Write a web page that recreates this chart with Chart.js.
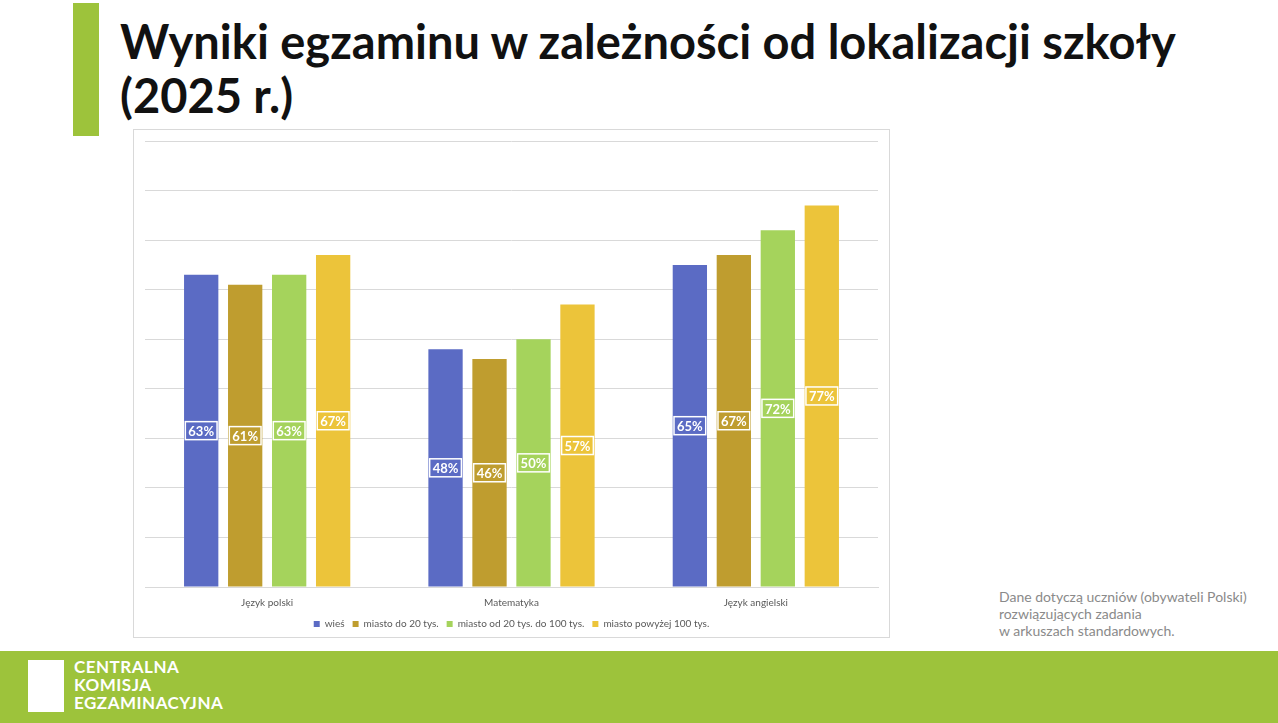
<!DOCTYPE html>
<html>
<head>
<meta charset="utf-8">
<script src="https://cdn.jsdelivr.net/npm/chart.js@4"></script>
<style>
  body { margin: 0; width: 1278px; height: 723px; background: #fff; position: relative; overflow: hidden; font-family: Lato, sans-serif; }
  .accent { position: absolute; left: 73px; top: 3px; width: 26px; height: 133px; background: #9dc33b; }
  h1 { position: absolute; left: 120px; top: 14px; margin: 0; font-size: 47px; line-height: 54px; font-weight: 700; color: #111; }
  .box { position: absolute; left: 133px; top: 129px; width: 757px; height: 509px; border: 1px solid #d9d9d9; box-sizing: border-box; }
  .note { position: absolute; left: 999px; top: 588px; font-size: 14px; line-height: 17px; color: #8a8a8a; }
  .footer { position: absolute; left: 0; top: 651px; width: 1278px; height: 72px; background: #9dc33b; }
  .logo { position: absolute; left: 28px; top: 9px; width: 36px; height: 52px; background: #fff; }
  .logo-text { position: absolute; left: 74px; top: 7px; color: #fff; font-weight: 700; font-size: 17px; line-height: 18px; letter-spacing: 0.5px; }
</style>
</head>
<body>
<div class="accent"></div>
<h1>Wyniki egzaminu w zależności od lokalizacji szkoły<br>(2025 r.)</h1>
<div class="box"><canvas id="chart" width="755" height="507"></canvas></div>
<div class="note">Dane dotyczą uczniów (obywateli Polski)<br>rozwiązujących zadania<br>w arkuszach standardowych.</div>
<div class="footer"><div class="logo"></div><div class="logo-text">CENTRALNA<br>KOMISJA<br>EGZAMINACYJNA</div></div>
<script>
const categories = ['Język polski', 'Matematyka', 'Język angielski'];
const seriesNames = ['wieś', 'miasto do 20 tys.', 'miasto od 20 tys. do 100 tys.', 'miasto powyżej 100 tys.'];
const seriesColors = ['#5b6bc4', '#bf9d2f', '#a5d35c', '#ecc43a'];
const wies = [63, 48, 65];
const miasto20 = [61, 46, 67];
const miasto100 = [63, 50, 72];
const miastoPow100 = [67, 57, 77];
const seriesValues = [wies, miasto20, miasto100, miastoPow100];

const boxLabels = {
    id: 'boxLabels',
    afterDatasetsDraw(chart) {
        const ctx = chart.ctx;
        ctx.save();
        ctx.font = 'bold 13px Lato, sans-serif';
        ctx.textAlign = 'center';
        ctx.textBaseline = 'middle';
        chart.data.datasets.forEach((ds, i) => {
            chart.getDatasetMeta(i).data.forEach((bar, j) => {
                const text = ds.data[j] + '%';
                const y = (bar.y + bar.base) / 2;
                const w = ctx.measureText(text).width + 6;
                ctx.strokeStyle = '#fff';
                ctx.lineWidth = 1.5;
                ctx.strokeRect(bar.x - w / 2, y - 9, w, 18);
                ctx.fillStyle = '#fff';
                ctx.fillText(text, bar.x, y + 1);
            });
        });
        ctx.restore();
    },
};

new Chart(document.getElementById('chart'), {
    type: 'bar',
    data: {
        labels: categories,
        datasets: seriesNames.map((name, i) => ({
            label: name,
            data: seriesValues[i],
            backgroundColor: seriesColors[i],
        })),
    },
    options: {
        responsive: false,
        animation: false,
        layout: { padding: { left: 11, right: 11, top: 11, bottom: -2 } },
        datasets: { bar: { categoryPercentage: 0.72, barPercentage: 0.78 } },
        scales: {
            x: {
                grid: { display: false },
                border: { color: '#d9d9d9' },
                ticks: { color: '#595959', font: { size: 10, family: 'Lato' }, padding: 2 },
            },
            y: {
                min: 0,
                max: 90,
                ticks: { stepSize: 10, display: false },
                grid: { color: '#d9d9d9', drawTicks: false },
                border: { display: false },
            },
        },
        plugins: {
            legend: {
                position: 'bottom',
                labels: { boxWidth: 6, boxHeight: 6, color: '#595959', font: { size: 10, family: 'Lato' }, padding: 8 },
            },
            tooltip: { enabled: false },
        },
    },
    plugins: [boxLabels],
});
</script>
</body>
</html>
